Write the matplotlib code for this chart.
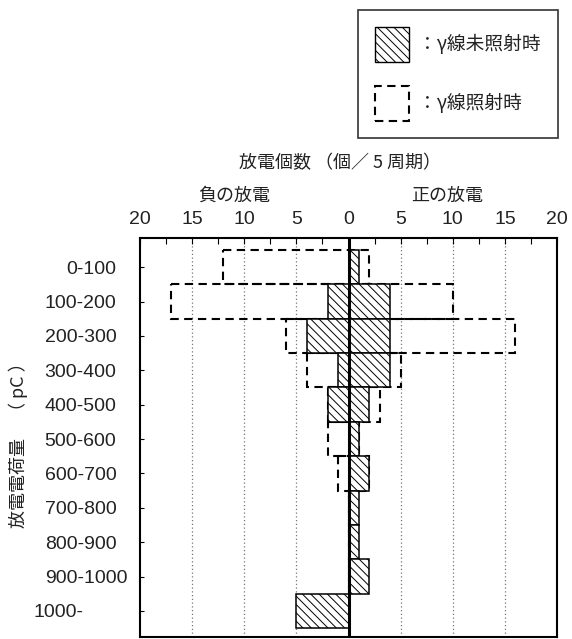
import matplotlib
matplotlib.use("Agg")
import matplotlib.pyplot as plt
from matplotlib.patches import Patch
from matplotlib.transforms import ScaledTranslation
import numpy as np

plt.rcParams['font.family'] = ['Liberation Sans', 'Noto Sans CJK JP', 'DejaVu Sans']
plt.rcParams['hatch.linewidth'] = 0.7

# discharge charge bins (pC)
charge_bins = ['0-100', '100-200', '200-300', '300-400', '400-500', '500-600',
               '600-700', '700-800', '800-900', '900-1000', '1000-']
# discharge counts per 5 cycles, without gamma irradiation
plain_neg = [0, 2, 4, 1, 2, 0, 0, 0, 0, 0, 5]
plain_pos = [1, 4, 4, 4, 2, 1, 2, 1, 1, 2, 0]
# discharge counts per 5 cycles, under gamma irradiation
gamma_neg = [12, 17, 6, 4, 2, 2, 1, 0, 0, 0, 0]
gamma_pos = [2, 10, 16, 5, 3, 1, 2, 0, 0, 0, 0]

x_ticks = [-20, -15, -10, -5, 0, 5, 10, 15, 20]
x_ticklabels = ['20', '15', '10', '5', '0', '5', '10', '15', '20']

W, H = 572, 639
fig = plt.figure(figsize=(W / 100, H / 100), dpi=100)
ax = fig.add_axes([140 / W, 1 - 637 / H, 417 / W, 399 / H])

cjk = ['Noto Sans CJK JP', 'DejaVu Sans']
ink = '#222222'
hatch = '\\\\\\\\'

y = np.arange(len(charge_bins))
gneg = np.array(gamma_neg)
gpos = np.array(gamma_pos)
pneg = np.array(plain_neg)
ppos = np.array(plain_pos)

dash = (0, (4, 2.6))
ax.barh(y, gneg + gpos, left=-gneg, height=1.0, facecolor='none',
        edgecolor='black', linewidth=1.5, linestyle=dash, zorder=3)
ax.barh(y, pneg + ppos, left=-pneg, height=1.0, facecolor='white',
        edgecolor='black', linewidth=1.1, hatch=hatch, zorder=4)

ax.axvline(0, color='black', linewidth=2.2, zorder=6)

for gx in [-15, -10, -5, 5, 10, 15]:
    ax.axvline(gx, color='#777777', linewidth=0.9, linestyle=(0, (1, 2)), zorder=1)

ax.set_xlim(-20, 20)
ax.set_ylim(10.76, -0.85)

ax.xaxis.tick_top()
ax.set_xticks(x_ticks)
ax.set_xticklabels(x_ticklabels, fontsize=14, color=ink)
ax.set_xticks(np.arange(-17.5, 20, 5), minor=True)
ax.tick_params(axis='x', which='both', direction='in', length=4, width=0.8,
               pad=7, top=True, bottom=False)

ax.set_yticks(y)
ax.set_yticklabels(charge_bins, fontsize=14, color=ink)
ax.tick_params(axis='y', direction='in', length=3, width=0.8, pad=17,
               left=True, right=False)

# hand-set nudges of two category labels (in points)
label_nudge = {'900-1000': 8, '1000-': -24}
for lab in ax.get_yticklabels():
    dx = label_nudge.get(lab.get_text(), 0)
    if dx:
        lab.set_transform(lab.get_transform() +
                          ScaledTranslation(dx / 72, 0, fig.dpi_scale_trans))

for sp in ax.spines.values():
    sp.set_linewidth(1.5)

fig.text(340 / W, 1 - 163 / H, '放電個数 （個／ 5 周期）', fontsize=13,
         family=cjk, color=ink, ha='center', va='center')
fig.text(234 / W, 1 - 196 / H, '負の放電', fontsize=13, family=cjk,
         color=ink, ha='center', va='center')
fig.text(447 / W, 1 - 196 / H, '正の放電', fontsize=13, family=cjk,
         color=ink, ha='center', va='center')
fig.text(18 / W, 1 - 441 / H, '放電電荷量\u3000（ pC ）', fontsize=13, family=cjk,
         color=ink, ha='center', va='center', rotation=90)

handles = [
    Patch(facecolor='white', edgecolor='black', linewidth=1.0, hatch=hatch),
    Patch(facecolor='none', edgecolor='black', linewidth=1.5, linestyle=dash),
]
leg = fig.legend(handles, ['：γ線未照射時', '：γ線照射時'],
                 loc='upper left', bbox_to_anchor=(358 / W, 1 - 10 / H),
                 prop={'family': cjk, 'size': 13.5}, frameon=True, fancybox=False,
                 edgecolor='black', handlelength=1.8, handleheight=2.5,
                 handletextpad=0.5, labelspacing=1.28, borderpad=0.9,
                 borderaxespad=0)
leg.get_frame().set_linewidth(1.2)
for t in leg.get_texts():
    t.set_color(ink)

fig.savefig('out.png', dpi=100)
